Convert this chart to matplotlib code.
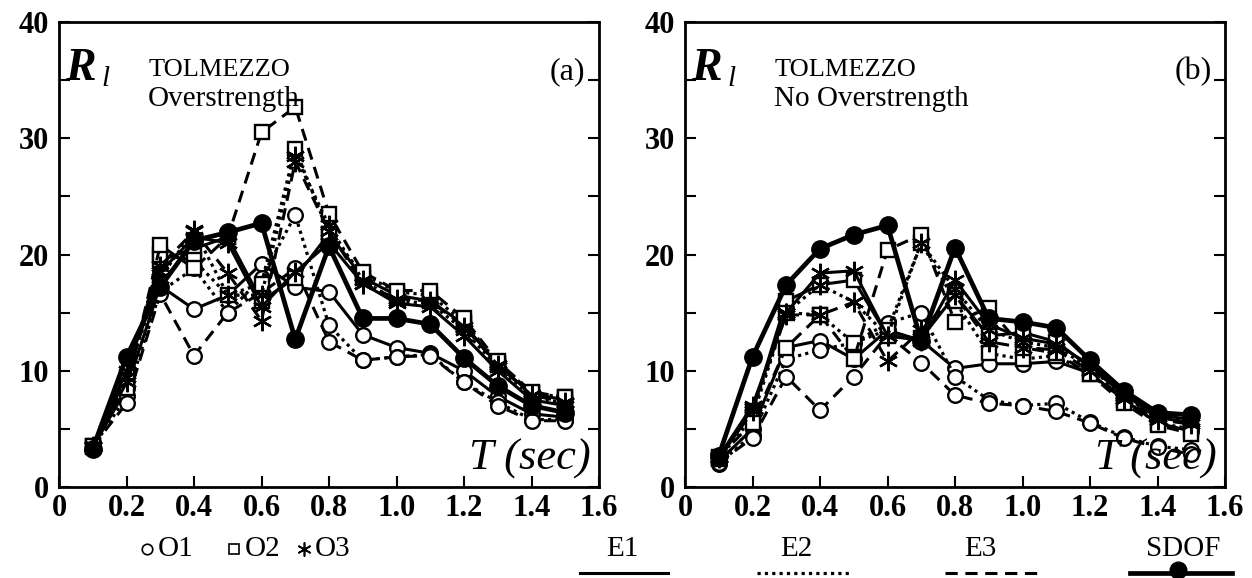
import matplotlib
matplotlib.use('Agg')
import matplotlib.pyplot as plt
from matplotlib.ticker import FixedLocator, FixedFormatter

plt.rcParams['font.family'] = ['Liberation Serif', 'DejaVu Serif']

# ---------------- data ----------------
T = [0.1, 0.2, 0.3, 0.4, 0.5, 0.6, 0.7, 0.8, 0.9, 1.0, 1.1, 1.2, 1.3, 1.4, 1.5]

# Panel (a): Overstrength
a_SDOF = [3.3, 11.2, 17.2, 21.2, 21.9, 22.7, 12.7, 20.7, 14.5, 14.5, 14.0, 11.1, 8.7, 7.0, 6.4]
a_O1E1 = [3.4, 8.5, 17.3, 15.3, 16.5, 19.2, 17.2, 16.8, 13.1, 12.0, 11.5, 10.0, 7.8, 6.3, 6.0]
a_O1E2 = [3.4, 7.8, 16.8, 18.8, 15.0, 18.0, 23.4, 13.9, 10.9, 11.2, 11.4, 9.0, 7.3, 5.8, 5.8]
a_O1E3 = [3.5, 7.2, 16.6, 11.3, 15.0, 16.7, 18.8, 12.5, 10.9, 11.2, 11.3, 9.0, 7.0, 5.7, 5.7]
a_O2E1 = [3.4, 9.5, 19.5, 20.5, 21.5, 16.0, 18.0, 21.8, 18.0, 16.5, 16.0, 14.0, 10.5, 8.0, 7.5]
a_O2E2 = [3.5, 9.0, 20.0, 19.5, 16.5, 17.5, 29.1, 21.8, 18.3, 16.8, 16.5, 14.2, 10.7, 8.1, 7.7]
a_O2E3 = [3.5, 8.5, 20.8, 18.8, 21.5, 30.5, 32.7, 23.5, 18.5, 16.9, 16.9, 14.5, 10.8, 8.2, 7.7]
a_O3E1 = [3.4, 10.0, 18.5, 21.5, 21.0, 15.5, 18.5, 21.0, 17.5, 15.8, 15.5, 13.0, 10.0, 7.5, 7.0]
a_O3E2 = [3.4, 9.5, 18.0, 22.1, 16.5, 16.5, 28.5, 22.5, 17.8, 16.0, 15.8, 13.5, 10.3, 7.8, 7.2]
a_O3E3 = [3.5, 9.0, 19.0, 22.0, 18.4, 14.3, 28.0, 22.0, 17.5, 16.2, 16.0, 13.8, 10.5, 7.9, 7.3]

# Panel (b): No Overstrength
b_SDOF = [2.7, 11.2, 17.4, 20.5, 21.7, 22.5, 12.6, 20.6, 14.5, 14.2, 13.7, 10.9, 8.3, 6.4, 6.2]
b_O1E1 = [2.2, 5.0, 12.0, 12.6, 11.0, 13.5, 12.6, 10.2, 10.6, 10.6, 10.8, 9.8, 7.5, 5.5, 4.8]
b_O1E2 = [2.0, 4.5, 11.0, 11.8, 12.4, 14.1, 15.0, 9.5, 7.5, 7.0, 7.2, 5.6, 4.3, 3.5, 3.2]
b_O1E3 = [2.1, 4.2, 9.5, 6.6, 9.5, 13.1, 10.7, 7.9, 7.2, 7.0, 6.5, 5.5, 4.2, 3.4, 2.8]
b_O2E1 = [2.5, 6.5, 16.0, 17.4, 17.8, 13.0, 12.8, 16.5, 13.0, 13.3, 12.5, 10.3, 8.0, 6.0, 5.5]
b_O2E2 = [2.4, 6.0, 15.0, 14.8, 12.4, 13.5, 21.0, 16.0, 11.5, 11.0, 11.3, 9.7, 7.5, 5.5, 5.0]
b_O2E3 = [2.6, 5.5, 12.0, 14.8, 11.0, 20.4, 21.7, 14.2, 15.4, 12.0, 11.5, 9.7, 7.2, 5.3, 4.6]
b_O3E1 = [2.6, 7.0, 15.0, 18.4, 18.6, 13.0, 12.6, 17.8, 14.0, 12.8, 12.3, 10.5, 8.0, 6.2, 5.8]
b_O3E2 = [2.5, 6.5, 15.0, 17.4, 15.9, 13.0, 21.0, 17.0, 13.5, 12.5, 12.0, 10.3, 7.8, 6.0, 5.6]
b_O3E3 = [2.6, 6.8, 14.8, 14.8, 15.9, 10.8, 13.5, 16.5, 12.5, 12.0, 11.8, 10.0, 7.6, 5.8, 5.4]

x_ticks = [0, 0.2, 0.4, 0.6, 0.8, 1.0, 1.2, 1.4, 1.6]
x_labels = ['0', '0.2', '0.4', '0.6', '0.8', '1.0', '1.2', '1.4', '1.6']
y_ticks = [0, 10, 20, 30, 40]
y_labels = ['0', '10', '20', '30', '40']

panels = [
    dict(sdof=a_SDOF, series={('O1', 'E1'): a_O1E1, ('O1', 'E2'): a_O1E2, ('O1', 'E3'): a_O1E3,
                              ('O2', 'E1'): a_O2E1, ('O2', 'E2'): a_O2E2, ('O2', 'E3'): a_O2E3,
                              ('O3', 'E1'): a_O3E1, ('O3', 'E2'): a_O3E2, ('O3', 'E3'): a_O3E3},
         sub='Overstrength', tag='(a)'),
    dict(sdof=b_SDOF, series={('O1', 'E1'): b_O1E1, ('O1', 'E2'): b_O1E2, ('O1', 'E3'): b_O1E3,
                              ('O2', 'E1'): b_O2E1, ('O2', 'E2'): b_O2E2, ('O2', 'E3'): b_O2E3,
                              ('O3', 'E1'): b_O3E1, ('O3', 'E2'): b_O3E2, ('O3', 'E3'): b_O3E3},
         sub='No Overstrength', tag='(b)'),
]

line_styles = {'E1': dict(linestyle='-', lw=2.2),
               'E2': dict(linestyle=(0, (1.0, 1.3)), lw=2.3),
               'E3': dict(linestyle=(0, (4.0, 2.5)), lw=2.2)}
marker_styles = {'O1': dict(marker='o', ms=10.5, mfc='white', mew=1.7),
                 'O2': dict(marker='s', ms=10.5, mfc='white', mew=1.7),
                 'O3': dict(marker=(6, 2, 0), ms=14, mfc='black', mew=1.7)}

W, H = 1252, 578
fig = plt.figure(figsize=(W / 100, H / 100), dpi=100)
lefts = [59, 685]

for left, p in zip(lefts, panels):
    ax = fig.add_axes([left / W, 91 / H, 540 / W, 465 / H])
    for (o, e), vals in p['series'].items():
        ax.plot(T, vals, color='black', **line_styles[e], **marker_styles[o], zorder=2)
    ax.plot(T, p['sdof'], color='black', lw=3.4, marker='o', ms=12.5, mfc='black', zorder=3)
    ax.set_xlim(0, 1.6)
    ax.set_ylim(0, 40)
    ax.xaxis.set_major_locator(FixedLocator(x_ticks))
    ax.xaxis.set_major_formatter(FixedFormatter(x_labels))
    ax.yaxis.set_major_locator(FixedLocator(y_ticks))
    ax.yaxis.set_major_formatter(FixedFormatter(y_labels))
    ax.yaxis.set_minor_locator(FixedLocator([5, 15, 25, 35]))
    ax.tick_params(which='both', direction='in', width=1.5)
    ax.tick_params(which='major', length=8, labelsize=22, pad=5)
    ax.tick_params(which='minor', length=8)
    ax.tick_params(axis='y', which='both', right=True, pad=7)
    for lab in ax.get_xticklabels() + ax.get_yticklabels():
        lab.set_fontweight('bold')
    for s in ax.spines.values():
        s.set_linewidth(2.0)
    # texts
    ax.text(0.012, 0.945, 'R', transform=ax.transAxes, fontsize=33, fontweight='bold',
            fontstyle='italic', va='top', ha='left')
    ax.text(0.078, 0.905, 'l', transform=ax.transAxes, fontsize=21,
            fontstyle='italic', va='top', ha='left')
    ax.text(0.165, 0.92, 'TOLMEZZO', transform=ax.transAxes, fontsize=19, va='top', ha='left')
    ax.text(0.165, 0.862, p['sub'], transform=ax.transAxes, fontsize=21, va='top', ha='left')
    ax.text(0.975, 0.925, p['tag'], transform=ax.transAxes, fontsize=23, va='top', ha='right')
    ax.text(0.985, 0.018, 'T (sec)', transform=ax.transAxes, fontsize=32,
            fontstyle='italic', va='bottom', ha='right')

# ---------------- legend row ----------------
lg = fig.add_axes([0, 0, 1, 1])
lg.set_xlim(0, W)
lg.set_ylim(H, 0)
lg.axis('off')
ty = 549
for mx, key, label in [(147, 'O1', 'O1'), (234, 'O2', 'O2'), (304, 'O3', 'O3')]:
    st = dict(marker_styles[key])
    st['ms'] = st['ms'] * 0.72
    st['mew'] = 1.2
    lg.plot([mx], [ty], color='black', linestyle='none', **st)
    lg.text(mx + 11, ty, label, fontsize=21, va='center', ha='left')

for cx, key, label, x0, x1 in [(622, 'E1', 'E1', 580, 668),
                               (796, 'E2', 'E2', 757, 852),
                               (980, 'E3', 'E3', 945, 1040)]:
    lg.text(cx, ty, label, fontsize=21, va='center', ha='center')
    lg.plot([x0, x1], [573, 573], color='black', **line_styles[key])
lg.text(1183, ty, 'SDOF', fontsize=21, va='center', ha='center')
lg.plot([1130, 1232], [573, 573], color='black', lw=3.4)
lg.plot([1178], [570], color='black', marker='o', ms=12, linestyle='none')

fig.savefig('out.png', dpi=100)
